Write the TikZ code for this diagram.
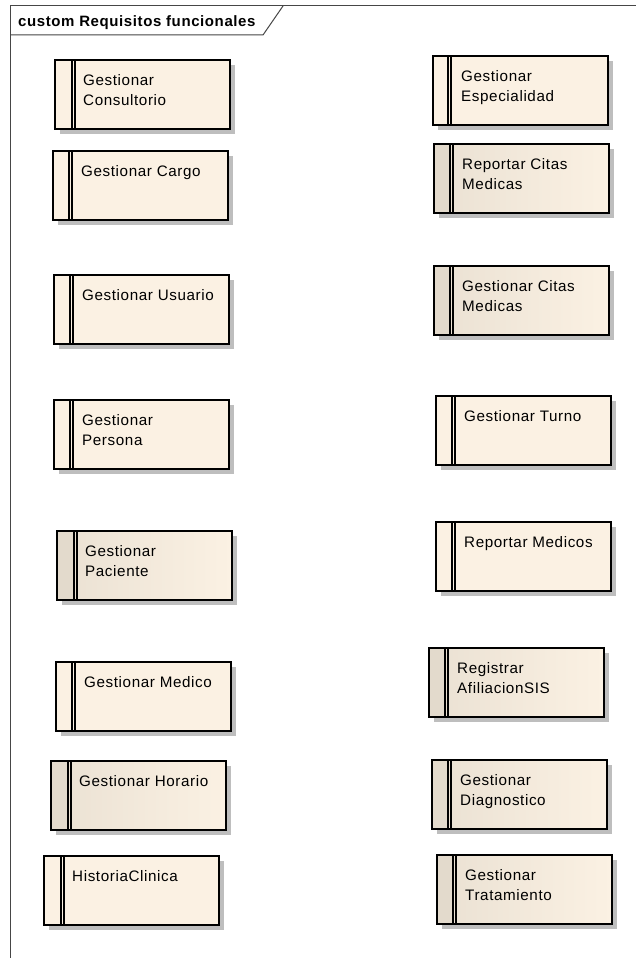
\documentclass[tikz,border=0pt]{standalone}
\usepackage{fontspec}
\setmainfont{Liberation Sans}[LetterSpace=4]
\usetikzlibrary{shadows}

\definecolor{boxfill}{RGB}{251,241,227}
\definecolor{boxshade}{RGB}{227,218,204}
\definecolor{shadowgray}{RGB}{190,190,190}
\definecolor{framegray}{RGB}{70,70,70}

\tikzset{
  x=1pt, y=-1pt,
  frameline/.style={draw=framegray, line width=1pt},
  titletext/.style={inner sep=0, font=\fontsize{15}{17}\selectfont\bfseries},
  reqbase/.style={draw=black, line width=1.3pt, minimum width=175pt,
    minimum height=69pt, inner sep=0, outer sep=0, anchor=north west,
    general shadow={fill=shadowgray, shadow xshift=5pt, shadow yshift=-5pt}},
  plain body/.style={reqbase, fill=boxfill},
  shaded body/.style={reqbase, left color=boxshade!70!boxfill, right color=boxfill},
  plain comp/.style={},
  shaded comp/.style={fill=boxshade},
  reqbar/.style={draw=black, line width=1.1pt},
  reqtext/.style={anchor=north west, inner sep=0, align=left,
    font=\fontsize{15.2}{20}\selectfont},
}

% \reqcase{name}{left}{top}{bar offset}{plain|shaded}{label}
\newcommand\reqcase[6]{%
  \node[#5 body] (#1) at (#2,#3) {};
  \path[#5 comp] ([xshift=0.65pt,yshift=-0.65pt]#1.north west)
    rectangle ([xshift=#4pt,yshift=0.65pt]#1.south west);
  \draw[reqbar] ([xshift=#4pt]#1.north west) -- ([xshift=#4pt]#1.south west);
  \draw[reqbar] ([xshift=#4pt+3pt]#1.north west) -- ([xshift=#4pt+3pt]#1.south west);
  \node[reqtext] (#1-t) at ([xshift=28pt,yshift=-14pt]#1.north west) {#6};
}

\begin{document}
\begin{tikzpicture}
\useasboundingbox (0,0) rectangle (636,958);
\fill[white] (0,0) rectangle (636,958);

% diagram frame and its name tab
\draw[frameline] (10,958) -- (10,6) -- (636,6);
\draw[frameline] (10,35) -- (263,35) -- (283,6);
\node[titletext, anchor=base west] (title) at (18,27) {custom Requisitos funcionales};

% left column
\reqcase{consultorio}{55}{60}{17}{plain}{Gestionar\\Consultorio}
\reqcase{cargo}{53}{151}{16}{plain}{Gestionar Cargo}
\reqcase{usuario}{54}{275}{16}{plain}{Gestionar Usuario}
\reqcase{persona}{54}{400}{16}{plain}{Gestionar\\Persona}
\reqcase{paciente}{57}{531}{17}{shaded}{Gestionar\\Paciente}
\reqcase{medico}{56}{662}{16}{plain}{Gestionar Medico}
\reqcase{horario}{51}{761}{17}{shaded}{Gestionar Horario}
\reqcase{historia}{44}{856}{17}{plain}{HistoriaClinica}

% right column
\reqcase{especialidad}{433}{56}{15}{plain}{Gestionar\\Especialidad}
\reqcase{repcitas}{434}{144}{16}{shaded}{Reportar Citas\\Medicas}
\reqcase{citas}{434}{266}{16}{shaded}{Gestionar Citas\\Medicas}
\reqcase{turno}{436}{396}{16}{plain}{Gestionar Turno}
\reqcase{repmedicos}{436}{522}{16}{plain}{Reportar Medicos}
\reqcase{afiliacion}{429}{648}{16}{shaded}{Registrar\\AfiliacionSIS}
\reqcase{diagnostico}{432}{760}{16}{shaded}{Gestionar\\Diagnostico}
\reqcase{tratamiento}{437}{855}{16}{shaded}{Gestionar\\Tratamiento}
\end{tikzpicture}
\end{document}
